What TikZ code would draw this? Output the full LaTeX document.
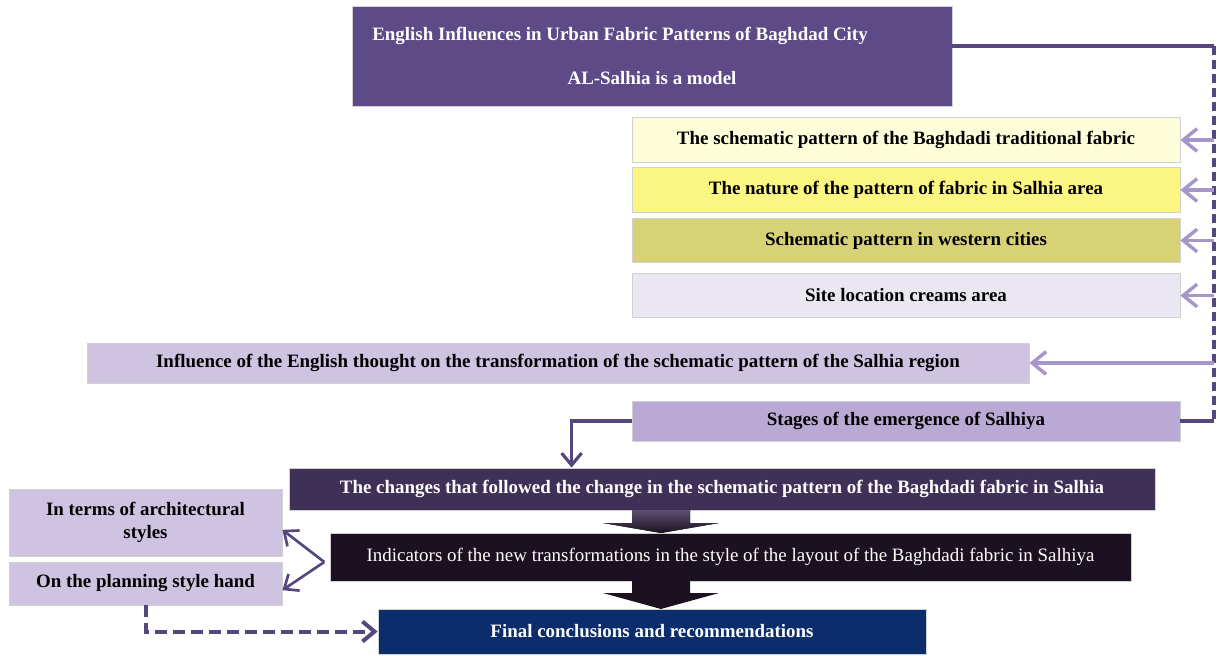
\documentclass[tikz,border=0pt]{standalone}
\usepackage{fontspec}
\setmainfont{Liberation Serif}
\usetikzlibrary{arrows.meta}

\definecolor{titleviolet}{HTML}{5D4A87}
\definecolor{creamfill}{HTML}{FEFDDA}
\definecolor{yellowfill}{HTML}{FBF582}
\definecolor{olivefill}{HTML}{D8D276}
\definecolor{palelilac}{HTML}{EAE6F2}
\definecolor{lilacfill}{HTML}{CEC3E0}
\definecolor{stagelilac}{HTML}{BBA9D5}
\definecolor{stepviolet}{HTML}{3F3058}
\definecolor{stepblack}{HTML}{1C1120}
\definecolor{finalnavy}{HTML}{0B2D6B}
\definecolor{railviolet}{HTML}{56467E}
\definecolor{feedlilac}{HTML}{A796C9}

\begin{document}
\begin{tikzpicture}[x=0.75pt, y=-0.75pt,
    box/.style={draw=black!18, line width=0.6pt, inner sep=0pt, align=center,
                font=\fontsize{14.2}{17}\selectfont\bfseries},
    sidebox/.style={box, minimum width=411pt, minimum height=33.5pt},
    rail/.style={draw=railviolet, line width=2.6pt},
    feed/.style={draw=feedlilac, line width=2.6pt, -{Straight Barb[length=10.5pt,width=17pt]}},
    link/.style={draw=railviolet, line width=2.4pt, -{Straight Barb[length=9pt,width=15pt]}}]
                        \useasboundingbox (0,0) rectangle (1217,656);
                        % Boxes:
                        \node[box, fill=titleviolet, text=white, minimum width=450pt, minimum height=75pt] (title) at (652,56)
                            {English Influences in Urban Fabric Patterns of Baghdad City\hspace*{48pt}\\[16pt]AL-Salhia is a model};
                        \node[sidebox, fill=creamfill] (b1) at (906,140) {The schematic pattern of the Baghdadi traditional fabric};
                        \node[sidebox, fill=yellowfill] (b2) at (906,190) {The nature of the pattern of fabric in Salhia area};
                        \node[sidebox, fill=olivefill] (b3) at (906,240.5) {Schematic pattern in western cities};
                        \node[sidebox, fill=palelilac] (b4) at (906,295.5) {Site location creams area};
                        \node[box, fill=lilacfill, minimum width=706.5pt, minimum height=30pt] (b5) at (558,363)
                            {Influence of the English thought on the transformation of the schematic pattern of the Salhia region};
                        \node[sidebox, fill=stagelilac, minimum height=30pt] (b6) at (906,421) {Stages of the emergence of Salhiya};
                        \node[box, fill=stepviolet, text=white, minimum width=649.5pt, minimum height=31.5pt] (b7) at (722,489)
                            {The changes that followed the change in the schematic pattern of the Baghdadi fabric in Salhia};
                        \node[box, fill=stepblack, text=white, font=\fontsize{14.2}{17}\selectfont, minimum width=600.75pt, minimum height=36pt] (b8) at (730.5,557)
                            {Indicators of the new transformations in the style of the layout of the Baghdadi fabric in Salhiya};
                        \node[box, fill=finalnavy, text=white, minimum width=411pt, minimum height=33.75pt] (b9) at (652,631.5)
                            {Final conclusions and recommendations};
                        \node[box, fill=lilacfill, minimum width=204.75pt, minimum height=50.25pt] (lb1) at (145.5,522.5)
                            {In terms of architectural\\styles};
                        \node[box, fill=lilacfill, minimum width=204.75pt, minimum height=32.25pt] (lb2) at (145.5,583.5)
                            {On the planning style hand};
                        % Rail on the right:
                        \coordinate (railtop) at (1214,46);
                        \draw[rail] (title.east |- railtop) -- (railtop);
                        \draw[rail, dash pattern=on 7pt off 3.5pt] (railtop) -- (railtop |- b6.east);
                        \draw[rail] (railtop |- b6.east) -- (b6.east);
                        \foreach \n in {b1,b2,b3,b4,b5}
                            \draw[feed] (railtop |- \n.east) -- (\n.east);
                        \draw[link] (b6.west) -| ([xshift=212.25pt]b7.north west);
                        % Big arrows:
                        \fill[top color=stepviolet!85!white, bottom color=stepblack] (632,510) -- (690,510) -- (690,523) -- (719,523)
                            -- (661,533) -- (603,523) -- (632,523) -- cycle;
                        \fill[stepblack] (632,581) -- (690,581) -- (690,593) -- (719,593) -- (661,609) -- (603,593) -- (632,593) -- cycle;
                        % Fork and dashed link:
                        \coordinate (fork) at ([xshift=-4pt,yshift=-3.75pt]b8.west);
                        \draw[link, line width=2pt] (fork) -- ([yshift=-5.5pt]lb1.east);
                        \draw[link, line width=2pt] (fork) -- ([yshift=-5pt]lb2.east);
                        \draw[link, line width=3pt, dash pattern=on 9pt off 4.5pt] (lb2.south) |- (b9.west);
                    \end{tikzpicture}
\end{document}
